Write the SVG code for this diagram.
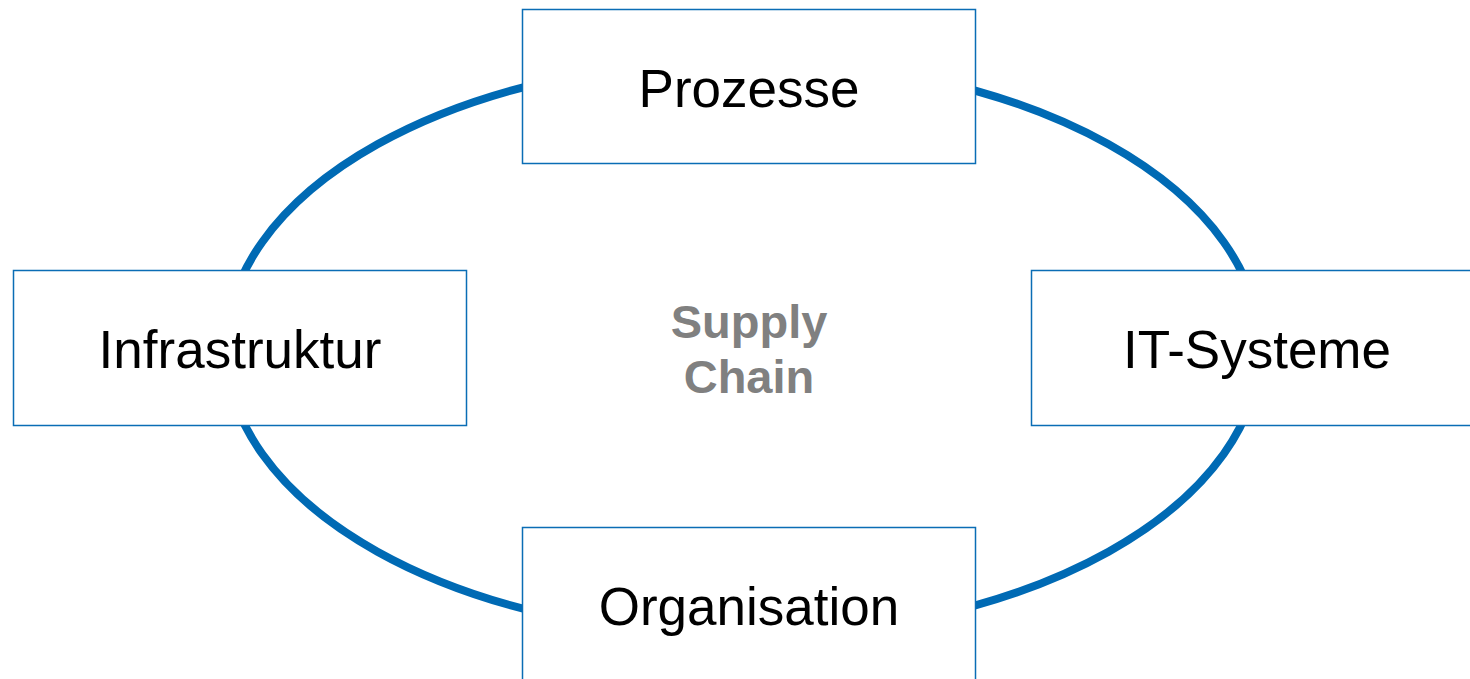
<svg xmlns="http://www.w3.org/2000/svg" width="1470" height="679" viewBox="0 0 1470 679">
<style>
.box{fill:#ffffff;stroke:#0a6db5;stroke-width:1.5}
.lbl{font-family:"Liberation Sans",Arial,sans-serif;font-size:53px;fill:#000000;text-anchor:middle}
.ctr{font-family:"Liberation Sans",Arial,sans-serif;font-size:47px;font-weight:bold;fill:#808080;text-anchor:middle}
</style>
<rect width="1470" height="679" fill="#ffffff"/>
<g id="connectors">
<ellipse cx="743" cy="348" rx="517" ry="288" fill="none" stroke="#006ab4" stroke-width="8"/>
</g>
<g id="center">
<text class="ctr" x="749" y="338">Supply</text>
<text class="ctr" x="749" y="393">Chain</text>
</g>
<g id="prozesse">
<rect class="box" x="522.5" y="9.5" width="453" height="154"/>
<text class="lbl" x="749" y="107">Prozesse</text>
</g>
<g id="infrastruktur">
<rect class="box" x="13.5" y="270.5" width="453" height="155"/>
<text class="lbl" x="240" y="368">Infrastruktur</text>
</g>
<g id="it-systeme">
<rect class="box" x="1031.5" y="270.5" width="453" height="155"/>
<text class="lbl" x="1257" y="368">IT-Systeme</text>
</g>
<g id="organisation">
<rect class="box" x="522.5" y="527.5" width="453" height="160"/>
<text class="lbl" x="749" y="625">Organisation</text>
</g>
</svg>
